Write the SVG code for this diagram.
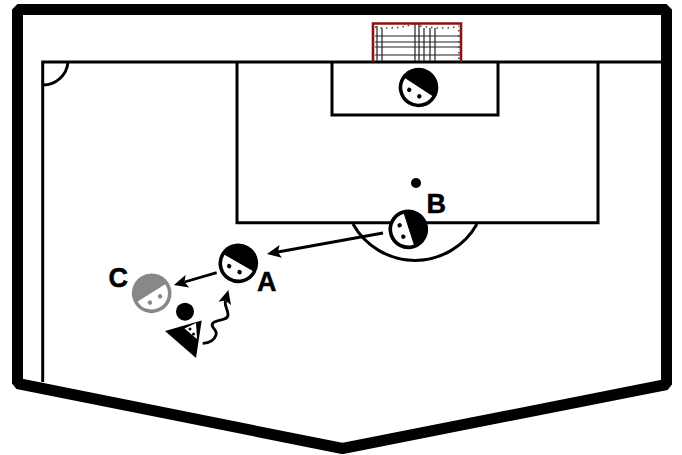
<svg xmlns="http://www.w3.org/2000/svg" width="682" height="455" viewBox="0 0 682 455">
<style>
.fl{fill:none;stroke:#000;stroke-width:3}
.lab{font:bold 27px "Liberation Sans",Arial,sans-serif;fill:#000;stroke:#000;stroke-width:.5}
.net{stroke:#222;stroke-width:1.2;fill:none}
.dots{stroke:#444;stroke-width:1.5;stroke-dasharray:1.5 4;fill:none}
.arr{fill:none;stroke:#000;stroke-width:2.8}
</style>
<defs>
<marker id="ah" markerUnits="userSpaceOnUse" markerWidth="15" markerHeight="14" refX="3" refY="7" orient="auto"><path d="M0 0.5L14 7L0 13.5L3 7Z" fill="#000"/></marker>
<g id="pl">
<circle r="18" fill="#fff" stroke="currentColor" stroke-width="3.6"/>
<path d="M-18 -1A18 18 0 0 1 18 -1Z" fill="currentColor" stroke="currentColor"/>
<circle cx="-6.5" cy="7" r="2.2" fill="currentColor"/><circle cx="5.5" cy="7" r="2.2" fill="currentColor"/>
</g>
</defs>
<g id="field">
<path d="M17.5 383.5V9.5H666.5V384.5L342.5 448.5Z" fill="none" stroke="#000" stroke-width="11" stroke-linejoin="bevel"/>
<path class="fl" d="M42.7 382V62H662"/>
<path class="fl" d="M42.7 85A25 25 0 0 0 68 62"/>
<path class="fl" d="M237 62V222.7H598V62"/>
<path class="fl" d="M332 62V115H498V62"/>
<path class="fl" d="M353 224A71 71 0 0 0 477 224"/>
</g>
<g id="goal">
<path class="net" d="M375 36H460M375 42H460M375 47H460M375 55H460M377 26V61M382 28V61M415 24V61M419 24V61M424 28V61M430 28V61M435 28V61"/>
<path class="dots" d="M375 27Q395 30 414 24M420 26Q445 30 459 26M458.7 30V61"/>
<path d="M373 62V23.5H461V62" fill="none" stroke="#8b1212" stroke-width="2.6"/>
</g>
<g id="keeper" color="#000"><use href="#pl" transform="translate(418.5 87.5) rotate(33)"/></g>
<g id="playerB" color="#000"><use href="#pl" transform="translate(408.3 229.3) rotate(72)"/></g>
<g id="playerA" color="#000"><use href="#pl" transform="translate(238.3 263.3) rotate(30)"/></g>
<g id="playerC" color="#888"><use href="#pl" transform="translate(151.7 293.3) rotate(-32)"/></g>
<g id="attacker">
<circle cx="185" cy="311.7" r="9" fill="#000"/>
<path d="M165 331L201.7 320.5L196 358Z" fill="#000"/>
<path d="M184.5 328.5L196 323L197 339Z" fill="#fff"/>
<circle cx="190" cy="329" r="1.5" fill="#000"/><circle cx="193.5" cy="334" r="1.5" fill="#000"/>
</g>
<g id="ball"><circle cx="416" cy="183" r="5" fill="#000"/></g>
<g id="connectors">
<path class="arr" marker-end="url(#ah)" d="M383 233L277.8 252"/>
<path class="arr" marker-end="url(#ah)" d="M216.7 272.7L184.5 282"/>
<path class="arr" marker-end="url(#ah)" d="M202.7 343.3C209 343 214 341 216 335C218 329 209 327 213 323C217 319 228 321 228 315C228 309 224 306 225.5 300.5"/>
</g>
<g id="labels">
<text class="lab" x="426.5" y="213">B</text>
<text class="lab" x="257" y="291">A</text>
<text class="lab" x="108.5" y="287">C</text>
</g>
</svg>
